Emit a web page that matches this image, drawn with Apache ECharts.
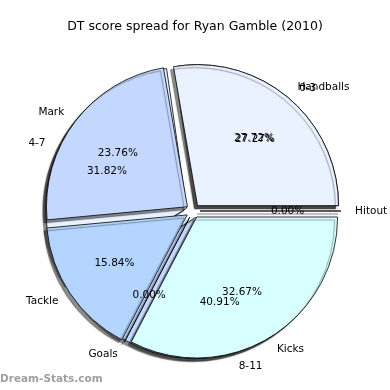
<!DOCTYPE html>
<html><head><meta charset="utf-8">
<script src="https://cdn.jsdelivr.net/npm/echarts@6/dist/echarts.min.js"></script>
<style>html,body{margin:0;padding:0;background:#fff}#c{width:390px;height:390px}</style>
</head><body><div id="c"></div>
<script>
const titleText = 'DT score spread for Ryan Gamble (2010)';
const watermarkText = 'Dream-Stats.com';
// first pie: score sources (counts, drawn counter-clockwise from east)
const statCategories = ['Handballs', 'Mark', 'Tackle', 'Goals', 'Kicks', 'Hitout'];
const statCounts = [28, 24, 16, 0, 33, 0];
const statColors = ['#eaf1ff', '#c4d8ff', '#b3d5ff', '#c8dcff', '#d8ffff', '#dde8ff'];
// second pie: score ranges
const rangeCategories = ['0-3', '4-7', '8-11'];
const rangeCounts = [6, 7, 9];
const rangeColors = ['#eaf1ff', '#eaf1ff', '#c4d8ff'];

const cx = 193, cy = 211, R = 141, EXPLODE = 7;
const FONT = 'DejaVu Sans';
const pctOf = (arr) => { const s = arr.reduce((a, b) => a + b, 0); return arr.map(v => (v / s * 100).toFixed(2) + '%'); };

function shapeSeries(names, vals, colors) {
  return {
    type: 'pie', center: [cx, cy], radius: [0, R], startAngle: 0, clockwise: false,
    selectedMode: 'multiple', selectedOffset: EXPLODE, avoidLabelOverlap: false,
    label: { show: false }, labelLine: { show: false }, emphasis: { disabled: true },
    itemStyle: { borderColor: '#000', borderWidth: 0.8, shadowColor: 'rgba(0,0,0,0.45)', shadowOffsetX: -3, shadowOffsetY: 3, shadowBlur: 1 },
    select: { itemStyle: { borderColor: '#000', borderWidth: 0.8 } },
    data: names.map((n, i) => ({ name: n, value: vals[i], selected: true, itemStyle: { color: colors[i] } }))
  };
}
function pctSeries(names, vals) {
  const pcts = pctOf(vals);
  return {
    type: 'pie', center: [cx, cy], radius: [0, 2 * (0.6 * R + EXPLODE)], startAngle: 0, clockwise: false,
    silent: true, avoidLabelOverlap: false, emphasis: { disabled: true },
    labelLayout: { hideOverlap: false },
    itemStyle: { color: 'rgba(0,0,0,0)', borderWidth: 0 },
    label: { show: true, position: 'inside', formatter: p => pcts[p.dataIndex], color: '#000', fontSize: 10.5, fontFamily: FONT, textBorderWidth: 0 },
    labelLine: { show: false },
    data: names.map((n, i) => ({ name: n, value: vals[i] }))
  };
}
function nameSeries(names, vals) {
  return {
    type: 'pie', center: [cx, cy], radius: [0, 1.1 * R + EXPLODE], startAngle: 0, clockwise: false,
    silent: true, avoidLabelOverlap: false, emphasis: { disabled: true },
    labelLayout: { hideOverlap: false },
    itemStyle: { color: 'rgba(0,0,0,0)', borderWidth: 0 },
    label: { show: true, position: 'outside', formatter: '{b}', color: '#000', fontSize: 10.5, fontFamily: FONT, distanceToLabelLine: 0 },
    labelLine: { show: false, length: 0, length2: 0 },
    data: names.map((n, i) => ({ name: n, value: vals[i] }))
  };
}

const chart = echarts.init(document.getElementById('c'), null, { renderer: 'canvas' });
chart.setOption({
  animation: false,
  backgroundColor: '#fff',
  title: [
    { text: titleText, left: 'center', top: 20, padding: 0, textStyle: { fontSize: 12.5, fontWeight: 'normal', color: '#000', fontFamily: FONT } },
    { text: watermarkText, left: 0, top: 374, padding: 0, textStyle: { fontSize: 10.5, fontWeight: 'bold', color: '#a0a0a0', fontFamily: FONT } }
  ],
  series: [
    shapeSeries(rangeCategories, rangeCounts, rangeColors),
    shapeSeries(statCategories, statCounts, statColors),
    pctSeries(statCategories, statCounts),
    pctSeries(rangeCategories, rangeCounts),
    nameSeries(statCategories, statCounts),
    nameSeries(rangeCategories, rangeCounts)
  ]
});
</script></body></html>
